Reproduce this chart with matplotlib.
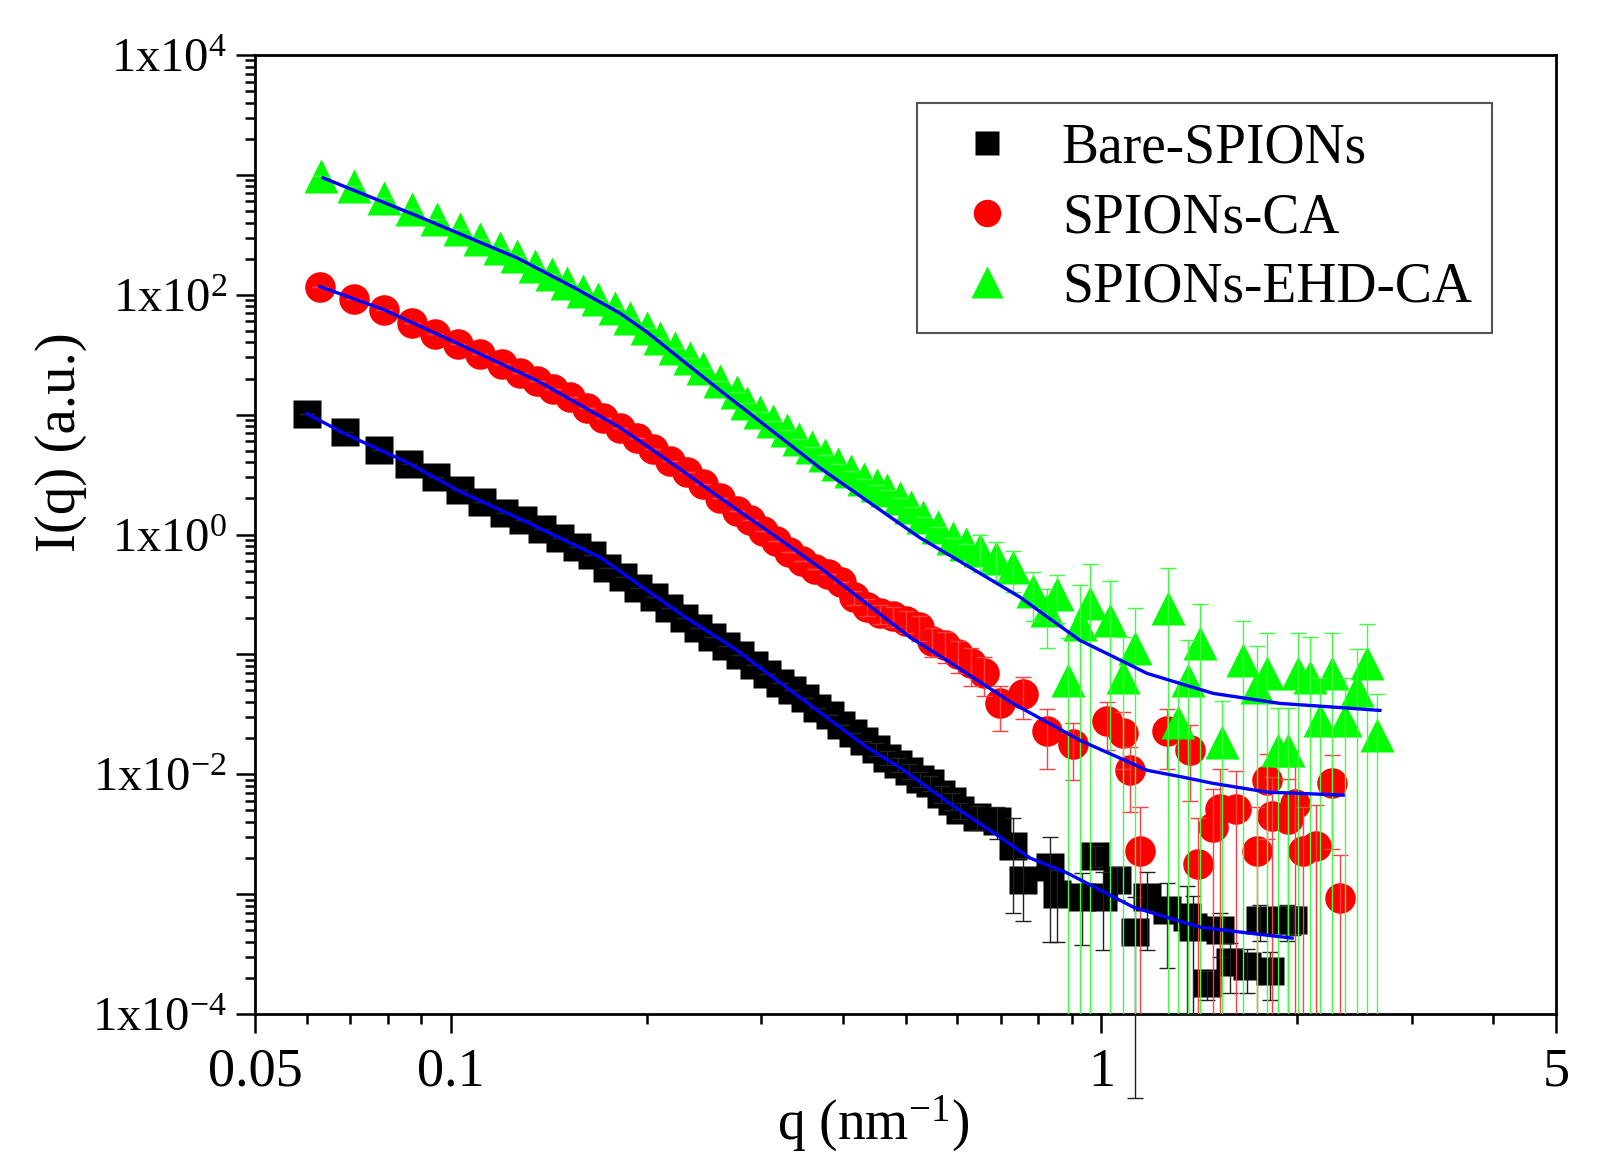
import matplotlib
matplotlib.use("Agg")
import matplotlib.pyplot as plt
from matplotlib.ticker import FixedLocator, FixedFormatter, LogLocator, NullFormatter

plt.rcParams['font.family'] = ['Liberation Serif', 'DejaVu Serif']
plt.rcParams['mathtext.default'] = 'regular'

# ---- Bare-SPIONs (black squares) ----
bare_q = [0.0601, 0.0688, 0.0776, 0.0862, 0.0949, 0.1033, 0.1117, 0.1207, 0.129, 0.138,
          0.147, 0.156, 0.165, 0.174, 0.184, 0.194, 0.205, 0.216, 0.228, 0.240,
          0.252, 0.265, 0.278, 0.292, 0.306, 0.320, 0.335, 0.350, 0.366, 0.382,
          0.398, 0.415, 0.432, 0.450, 0.468, 0.487, 0.506, 0.526, 0.546, 0.567,
          0.589, 0.607, 0.644, 0.691, 0.731, 0.758, 0.834, 0.855, 0.934, 0.978,
          1.006, 1.057, 1.127, 1.175, 1.262, 1.354, 1.383, 1.454, 1.522, 1.577,
          1.675, 1.754, 1.817, 1.930, 1.970]
bare_I = [10.2, 7.1, 5.1, 3.9, 3.0, 2.33, 1.88, 1.52, 1.31, 1.12,
          0.94, 0.79, 0.67, 0.53, 0.44, 0.36, 0.30, 0.246, 0.20, 0.167,
          0.140, 0.118, 0.098, 0.082, 0.069, 0.058, 0.050, 0.043, 0.036, 0.031,
          0.026, 0.022, 0.019, 0.0162, 0.0138, 0.0121, 0.0106, 0.0092, 0.0084, 0.0069,
          0.0060, 0.0050, 0.0044, 0.0041, 0.0025, 0.0013, 0.0017, 0.0010, 0.00094, 0.0021,
          0.00094, 0.0013, 0.00048, 0.00094, 0.00074, 0.00064, 0.00053, 0.00018, 0.0005, 0.00027,
          0.00025, 0.00061, 0.00023, 0.00061, 0.00061]
bare_err = [0, 0, 0, 0, 0, 0, 0, 0, 0, 0,
            0, 0, 0, 0, 0, 0, 0, 0, 0, 0,
            0, 0, 0, 0, 0, 0, 0, 0, 0, 0,
            0, 0, 0, 0.002, 0.0018, 0.0016, 0.0015, 0.0013, 0.0012, 0.0011,
            0.0010, 0.0008, 0.0010, 0.0012, 0.0018, 0.0007, 0.0013, 0.0006, 0.00056, 0.0004,
            0.0006, 0.0004, 0.00046, 0.0006, 0.0005, 0.00054, 0.00043, 0.00005, 0.0002, 0.00012,
            0.0001, 0.0002, 0.0001, 0.0002, 0.00015]

# ---- SPIONs-CA (red circles) ----
ca_q = [0.0629, 0.0710, 0.0789, 0.0871, 0.0946, 0.1026, 0.1109, 0.1199, 0.1278, 0.1357,
        0.1436, 0.1525, 0.1619, 0.1714, 0.182, 0.1934, 0.2046, 0.2172, 0.2307, 0.2442,
        0.259, 0.2754, 0.288, 0.302, 0.316, 0.331, 0.347, 0.363, 0.380, 0.398,
        0.417, 0.436, 0.457, 0.478, 0.501, 0.525, 0.549, 0.575, 0.602, 0.630,
        0.660, 0.698, 0.758, 0.825, 0.904, 1.020, 1.080, 1.107, 1.147, 1.262,
        1.368, 1.408, 1.485, 1.522, 1.611, 1.735, 1.798, 1.830, 1.936, 1.985,
        2.042, 2.138, 2.263, 2.328]
ca_I = [117, 93, 75, 58, 47, 39, 32, 26.6, 22.4, 19.2,
        16.5, 13.9, 11.4, 9.4, 7.8, 6.4, 5.2, 4.1, 3.3, 2.66,
        2.03, 1.58, 1.31, 1.08, 0.89, 0.72, 0.60, 0.52, 0.47, 0.40,
        0.30, 0.25, 0.22, 0.21, 0.19, 0.17, 0.13, 0.12, 0.10, 0.084,
        0.070, 0.039, 0.047, 0.023, 0.018, 0.028, 0.022, 0.0108, 0.0023, 0.023,
        0.016, 0.0018, 0.0036, 0.0051, 0.0051, 0.0023, 0.0089, 0.0045, 0.0042, 0.0057,
        0.0023, 0.0025, 0.0084, 0.00093]
ca_err = [0, 0, 0, 0, 0, 0, 0, 0, 0, 0,
          0, 0, 0, 0, 0, 0, 0, 0, 0, 0,
          0, 0, 0, 0, 0, 0, 0, 0, 0, 0,
          0.04, 0.04, 0.04, 0.04, 0.04, 0.04, 0.035, 0.035, 0.03, 0.03,
          0.025, 0.016, 0.018, 0.012, 0.009, 0.012, 0.011, 0.006, 0.003, 0.012,
          0.010, 0.0025, 0.004, 0.006, 0.0055, 0.003, 0.006, 0.005, 0.005, 0.006,
          0.003, 0.003, 0.006, 0.0012]

# ---- SPIONs-EHD-CA (green triangles) ----
ehd_q = [0.0632, 0.0710, 0.0789, 0.0871, 0.0952, 0.1033, 0.1109, 0.119, 0.1264, 0.1347,
         0.143, 0.151, 0.1597, 0.1684, 0.1788, 0.1886, 0.2003, 0.2097, 0.2211, 0.2332,
         0.2442, 0.259, 0.2754, 0.2853, 0.299, 0.313, 0.328, 0.343, 0.359, 0.376,
         0.394, 0.412, 0.432, 0.452, 0.468, 0.490, 0.510, 0.532, 0.561, 0.592,
         0.620, 0.651, 0.689, 0.731, 0.785, 0.825, 0.855, 0.889, 0.927, 0.960,
         1.031, 1.080, 1.127, 1.266, 1.312, 1.360, 1.418, 1.533, 1.652, 1.735,
         1.798, 1.868, 1.936, 2.006, 2.093, 2.168, 2.263, 2.369, 2.472, 2.561,
         2.654]
ehd_I = [981, 810, 643, 521, 430, 355, 293, 246, 211, 175,
         150, 126, 108, 92.6, 77.9, 64.3, 53.1, 43.8, 36.2, 29.9,
         24.6, 19.2, 15.3, 12.4, 10.5, 8.9, 7.5, 6.3, 5.4, 4.6,
         3.9, 3.4, 2.9, 2.6, 2.33, 2.0, 1.7, 1.39, 1.15, 0.944,
         0.84, 0.736, 0.64, 0.531, 0.341, 0.233, 0.322, 0.061, 0.181, 0.266,
         0.192, 0.0643, 0.114, 0.246, 0.0271, 0.0607, 0.124, 0.0185, 0.089, 0.0531,
         0.0695, 0.0158, 0.0158, 0.0695, 0.0643, 0.0282, 0.0695, 0.0282, 0.0501, 0.084,
         0.0211]
ehd_err = [0, 0, 0, 0, 0, 0, 0, 0, 0, 0,
           0, 0, 0, 0, 0, 0, 0, 0, 0, 0,
           0, 0, 0, 0, 0, 0, 0, 0, 0, 0,
           0, 0, 0, 0, 0, 0, 0, 0, 0, 0,
           0, 0.25, 0.22, 0.2, 0.15, 0.12, 0.14, 0.075, 0.2, 0.3,
           0.22, 0.075, 0.13, 0.28, 0.033, 0.07, 0.14, 0.022, 0.1, 0.065,
           0.08, 0.02, 0.02, 0.08, 0.075, 0.035, 0.08, 0.035, 0.06, 0.095,
           0.026]

# ---- fitted curves (blue) ----
bare_fit_q = [0.060, 0.0688, 0.086, 0.103, 0.132, 0.170, 0.2275, 0.2715, 0.344, 0.436, 0.49,
              0.585, 0.698, 0.777, 0.886, 1.0, 1.119, 1.25, 1.418, 1.65, 1.964]
bare_fit_I = [10.2, 6.9, 3.95, 2.3, 1.24, 0.64, 0.21, 0.114, 0.0438, 0.0168, 0.0114,
              0.0057, 0.0030, 0.0020, 0.0015, 0.00107, 0.00078, 0.00065, 0.00053, 0.00048, 0.00043]
ca_fit_q = [0.0629, 0.0789, 0.1026, 0.1357, 0.182, 0.222, 0.259, 0.31, 0.369, 0.43, 0.508,
            0.579, 0.65, 0.731, 0.82, 0.927, 1.05, 1.175, 1.33, 1.485, 1.798, 2.353]
ca_fit_I = [117, 75, 39, 19.2, 7.8, 3.7, 2.03, 1.03, 0.531, 0.28, 0.139,
            0.089, 0.059, 0.039, 0.0277, 0.0192, 0.0142, 0.0108, 0.0095, 0.0084, 0.0071, 0.0067]
ehd_fit_q = [0.0636, 0.0887, 0.1264, 0.155, 0.182, 0.2, 0.2275, 0.259, 0.31, 0.369, 0.44, 0.526, 0.63,
             0.750, 0.84, 0.927, 1.05, 1.175, 1.33, 1.485, 1.882, 2.3, 2.68]
ehd_fit_I = [944, 455, 203, 114, 70, 49, 28, 16, 7.5, 3.6, 1.85, 0.94, 0.527,
             0.30, 0.192, 0.131, 0.094, 0.0695, 0.0566, 0.0473, 0.039, 0.0362, 0.0341]

x_ticks = [0.05, 0.1, 1, 5]
x_ticklabels = ['0.05', '0.1', '1', '5']
y_ticks = [1e-4, 1e-3, 1e-2, 1e-1, 1e0, 1e1, 1e2, 1e3, 1e4]
y_ticklabels = ['$1x10^{-4}$', '', '$1x10^{-2}$', '', '$1x10^{0}$', '', '$1x10^{2}$', '', '$1x10^{4}$']

fig = plt.figure(figsize=(16.15, 11.7), dpi=100)
ax = fig.add_axes([0.158, 0.1333, 0.8055, 0.8197])
ax.set_xscale('log')
ax.set_yscale('log')

series = [
    (bare_q, bare_I, bare_err, 's', 'black', '#222222', 19.5, 'Bare-SPIONs'),
    (ca_q, ca_I, ca_err, 'o', 'red', '#ff4040', 22, 'SPIONs-CA'),
    (ehd_q, ehd_I, ehd_err, '^', '#00ff00', '#40ff40', 25, 'SPIONs-EHD-CA'),
]
handles = []
z = 2
for q, I, err, mk, col, ecol, ms, lab in series:
    h, = ax.plot(q, I, ls='none', marker=mk, ms=ms, color=col, mec='none', label=lab, zorder=z)
    eb = ax.errorbar(q, I, yerr=err, fmt='none', ecolor=ecol, elinewidth=1.0,
                     capsize=6, capthick=1.0, zorder=z + 1)
    if lab == 'Bare-SPIONs':
        # one bar of the black set runs below the frame in the original
        for art in list(eb.lines[1]) + list(eb.lines[2]):
            art.set_clip_on(False)
    handles.append(h)
    z += 2

for fq, fI in [(bare_fit_q, bare_fit_I), (ca_fit_q, ca_fit_I), (ehd_fit_q, ehd_fit_I)]:
    ax.plot(fq, fI, color='#0000ff', lw=2.4, zorder=20)

ax.set_xlim(0.05, 5)
ax.set_ylim(1e-4, 1e4)

ax.xaxis.set_major_locator(FixedLocator(x_ticks))
ax.xaxis.set_major_formatter(FixedFormatter(x_ticklabels))
ax.xaxis.set_minor_locator(LogLocator(base=10, subs=[2, 3, 4, 5, 6, 7, 8, 9], numticks=20))
ax.xaxis.set_minor_formatter(NullFormatter())
ax.yaxis.set_major_locator(FixedLocator(y_ticks))
ax.yaxis.set_major_formatter(FixedFormatter(y_ticklabels))
ax.yaxis.set_minor_locator(LogLocator(base=10, subs=[2, 3, 4, 5, 6, 7, 8, 9], numticks=20))
ax.yaxis.set_minor_formatter(NullFormatter())

ax.tick_params(which='both', direction='out', top=False, right=False, width=1.8)
ax.tick_params(which='major', length=14)
ax.tick_params(which='minor', length=7)
ax.tick_params(axis='x', which='major', pad=10, labelsize=39)
ax.tick_params(axis='y', which='major', pad=6, labelsize=35)
for sp in ax.spines.values():
    sp.set_linewidth(2.0)

ax.set_xlabel('q (nm$^{-1}$)', fontsize=40)
ax.xaxis.set_label_coords(0.475, -0.083)
ax.set_ylabel('I(q) (a.u.)', fontsize=41)
ax.yaxis.set_label_coords(-0.129, 0.596)

leg = ax.legend(handles=handles, loc='upper left', bbox_to_anchor=(0.509, 0.950),
                fontsize=40, frameon=True, fancybox=False, framealpha=1,
                edgecolor='#555555', borderpad=0.36, labelspacing=0.31,
                handlelength=1.78, handletextpad=0.46, borderaxespad=0, markerscale=0.9)
leg.get_frame().set_linewidth(1.5)

fig.savefig('out.png', dpi=100)
